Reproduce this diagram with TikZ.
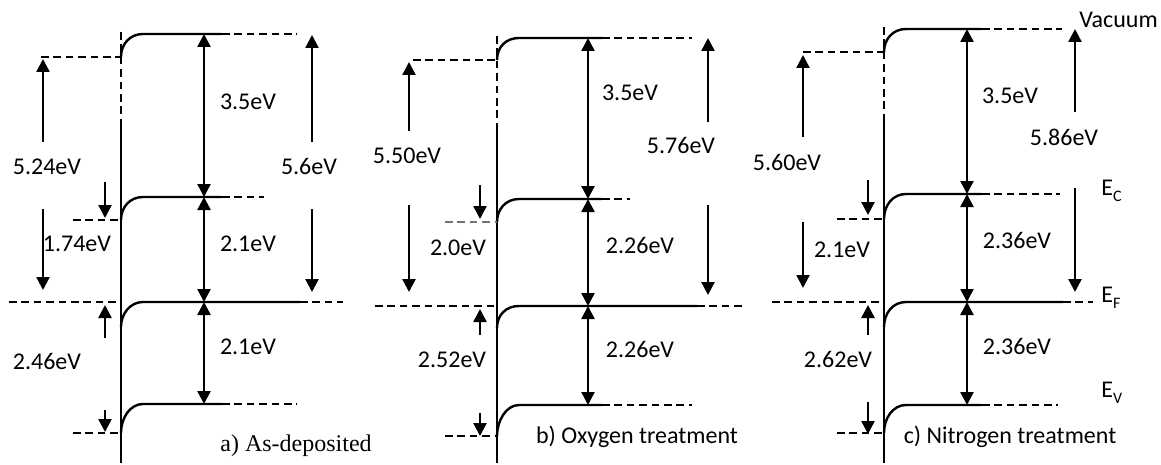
\documentclass[tikz,border=0pt]{standalone}
\usepackage{fontspec}
\setmainfont{Carlito}
\newfontfamily\serifcap{Liberation Serif}
\usetikzlibrary{arrows.meta,calc}
\tikzset{
  lvl/.style={line width=1.2pt},
  dsh/.style={line width=1.2pt, dash pattern=on 3.8pt off 2.4pt},
  arr/.style={line width=1.2pt, -{Triangle[length=6.5pt,width=6.5pt]}},
  darr/.style={line width=1.2pt, {Triangle[length=6.5pt,width=6.5pt]}-{Triangle[length=6.5pt,width=6.5pt]}},
  lbl/.style={font=\fontsize{12}{14}\selectfont, inner sep=0pt, anchor=base},
  elbl/.style={font=\fontsize{12}{14}\selectfont, inner sep=0pt, anchor=base west},
  captext/.style={font=\fontsize{12}{14}\selectfont, inner sep=0pt, anchor=base},
}
\newcommand{\esub}[1]{\raisebox{-3pt}{\fontsize{8}{8}\selectfont #1}}
\begin{document}
\begin{tikzpicture}[x=0.5pt,y=-0.5pt]
\useasboundingbox (0,0) rectangle (1161,465);

% ================= panel a =================
\coordinate (a-top) at (121,32);
\coordinate (a-mid) at (121,121);
\coordinate (a-bot) at (121,463);
\draw[dsh] (a-top) -- (a-mid);
\draw[lvl] (a-mid) -- (a-bot);
% vacuum
\coordinate (a-vacL) at (121,57);
\coordinate (a-vacK) at (143,34);
\coordinate (a-vacS) at (222,34);
\coordinate (a-vacE) at (297,34);
\coordinate (a-wfS) at (41,57);
\draw[lvl] (a-vacL) .. controls ($(a-vacL)+(0,-13)$) and ($(a-vacK)+(-13,0)$) .. (a-vacK) -- (a-vacS);
\draw[dsh] (a-vacS) -- (a-vacE);
\draw[dsh] (a-wfS) -- (a-vacL);
% conduction band
\coordinate (a-cbL) at (121,220);
\coordinate (a-cbK) at (143,197);
\coordinate (a-cbS) at (222,197);
\coordinate (a-cbE) at (264,197);
\coordinate (a-cbD) at (73,220);
\draw[lvl] (a-cbL) .. controls ($(a-cbL)+(0,-13)$) and ($(a-cbK)+(-13,0)$) .. (a-cbK) -- (a-cbS);
\draw[dsh] (a-cbS) -- (a-cbE);
\draw[dsh] (a-cbD) -- (a-cbL);
% Fermi level
\coordinate (a-efD) at (9,302);
\coordinate (a-efI) at (121,302);
\coordinate (a-efL) at (121,327);
\coordinate (a-efK) at (143,302);
\coordinate (a-efS) at (300,302);
\coordinate (a-efE) at (343,302);
\draw[dsh] (a-efD) -- (a-efI);
\draw[lvl] (a-efL) .. controls ($(a-efL)+(0,-13)$) and ($(a-efK)+(-13,0)$) .. (a-efK) -- (a-efS);
\draw[dsh] (a-efS) -- (a-efE);
% valence band
\coordinate (a-vbL) at (121,433);
\coordinate (a-vbK) at (143,404);
\coordinate (a-vbS) at (222,404);
\coordinate (a-vbE) at (297,404);
\coordinate (a-vbD) at (73,433);
\draw[lvl] (a-vbL) .. controls ($(a-vbL)+(0,-15)$) and ($(a-vbK)+(-13,0)$) .. (a-vbK) -- (a-vbS);
\draw[dsh] (a-vbS) -- (a-vbE);
\draw[dsh] (a-vbD) -- (a-vbL);
% arrows
\coordinate (a-xd) at (204,0);
\draw[darr] (a-xd |- a-vacS) -- (a-xd |- a-cbS);
\draw[darr] (a-xd |- a-cbS) -- (a-xd |- a-efS);
\draw[darr] (a-xd |- a-efS) -- (a-xd |- a-vbS);
\coordinate (a-l1) at (43,142); \coordinate (a-l1t) at (43,59);
\coordinate (a-l2) at (43,209); \coordinate (a-l2t) at (43,290);
\draw[arr] (a-l1) -- (a-l1t);
\draw[arr] (a-l2) -- (a-l2t);
\coordinate (a-r1) at (312,142); \coordinate (a-r1t) at (312,35);
\coordinate (a-r2) at (312,209); \coordinate (a-r2t) at (312,292);
\draw[arr] (a-r1) -- (a-r1t);
\draw[arr] (a-r2) -- (a-r2t);
\coordinate (a-s1) at (105,182); \coordinate (a-s1t) at (105,218);
\coordinate (a-s2) at (105,338); \coordinate (a-s2t) at (105,305);
\coordinate (a-s3) at (105,410); \coordinate (a-s3t) at (105,432);
\draw[arr] (a-s1) -- (a-s1t);
\draw[arr] (a-s2) -- (a-s2t);
\draw[arr] (a-s3) -- (a-s3t);
% labels
\node[lbl] (a-t1) at (47,174) {5.24eV};
\node[lbl] (a-t2) at (309,174) {5.6eV};
\node[lbl] (a-t3) at (248,110) {3.5eV};
\node[lbl] (a-t4) at (77,251) {1.74eV};
\node[lbl] (a-t5) at (248,251) {2.1eV};
\node[lbl] (a-t6) at (47,369) {2.46eV};
\node[lbl] (a-t7) at (248,354) {2.1eV};
\node[captext,font=\serifcap\fontsize{12}{14}\selectfont] (a-cap) at (296,451) {a) As-deposited};

% ================= panel b =================
\coordinate (b-top) at (497,36);
\coordinate (b-mid) at (497,123);
\coordinate (b-bot) at (497,463);
\draw[dsh] (b-top) -- (b-mid);
\draw[lvl] (b-mid) -- (b-bot);
\coordinate (b-vacL) at (497,60);
\coordinate (b-vacK) at (519,38);
\coordinate (b-vacS) at (602,38);
\coordinate (b-vacE) at (692,38);
\coordinate (b-wfS) at (413,60);
\draw[lvl] (b-vacL) .. controls ($(b-vacL)+(0,-13)$) and ($(b-vacK)+(-13,0)$) .. (b-vacK) -- (b-vacS);
\draw[dsh] (b-vacS) -- (b-vacE);
\draw[dsh] (b-wfS) -- (b-vacL);
\coordinate (b-cbL) at (497,222);
\coordinate (b-cbK) at (519,199);
\coordinate (b-cbS) at (602,199);
\coordinate (b-cbE) at (630,199);
\coordinate (b-cbD) at (445,222);
\draw[lvl] (b-cbL) .. controls ($(b-cbL)+(0,-13)$) and ($(b-cbK)+(-13,0)$) .. (b-cbK) -- (b-cbS);
\draw[dsh] (b-cbS) -- (b-cbE);
\draw[dsh,black!55] (b-cbD) -- (b-cbL);
\coordinate (b-efD) at (375,306);
\coordinate (b-efI) at (497,306);
\coordinate (b-efL) at (497,328);
\coordinate (b-efK) at (519,306);
\coordinate (b-efS) at (697,306);
\coordinate (b-efE) at (743,306);
\draw[dsh] (b-efD) -- (b-efI);
\draw[lvl] (b-efL) .. controls ($(b-efL)+(0,-13)$) and ($(b-efK)+(-13,0)$) .. (b-efK) -- (b-efS);
\draw[dsh] (b-efS) -- (b-efE);
\coordinate (b-vbL) at (497,436);
\coordinate (b-vbK) at (519,405);
\coordinate (b-vbS) at (602,405);
\coordinate (b-vbE) at (692,405);
\coordinate (b-vbD) at (445,436);
\draw[lvl] (b-vbL) .. controls ($(b-vbL)+(0,-15)$) and ($(b-vbK)+(-13,0)$) .. (b-vbK) -- (b-vbS);
\draw[dsh] (b-vbS) -- (b-vbE);
\draw[dsh] (b-vbD) -- (b-vbL);
\coordinate (b-xd) at (588,0);
\draw[darr] (b-xd |- b-vacS) -- (b-xd |- b-cbS);
\draw[darr] (b-xd |- b-cbS) -- (b-xd |- b-efS);
\draw[darr] (b-xd |- b-efS) -- (b-xd |- b-vbS);
\coordinate (b-l1) at (409,131); \coordinate (b-l1t) at (409,62);
\coordinate (b-l2) at (409,205); \coordinate (b-l2t) at (409,292);
\draw[arr] (b-l1) -- (b-l1t);
\draw[arr] (b-l2) -- (b-l2t);
\coordinate (b-r1) at (708,122); \coordinate (b-r1t) at (708,38);
\coordinate (b-r2) at (708,205); \coordinate (b-r2t) at (708,295);
\draw[arr] (b-r1) -- (b-r1t);
\draw[arr] (b-r2) -- (b-r2t);
\coordinate (b-s1) at (480,185); \coordinate (b-s1t) at (480,219);
\coordinate (b-s2) at (480,335); \coordinate (b-s2t) at (480,309);
\coordinate (b-s3) at (480,413); \coordinate (b-s3t) at (480,436);
\draw[arr] (b-s1) -- (b-s1t);
\draw[arr] (b-s2) -- (b-s2t);
\draw[arr] (b-s3) -- (b-s3t);
\node[lbl] (b-t1) at (407,163) {5.50eV};
\node[lbl] (b-t2) at (681,154) {5.76eV};
\node[lbl] (b-t3) at (630,101) {3.5eV};
\node[lbl] (b-t4) at (458,255) {2.0eV};
\node[lbl] (b-t5) at (640,253) {2.26eV};
\node[lbl] (b-t6) at (452,367) {2.52eV};
\node[lbl] (b-t7) at (640,357) {2.26eV};
\node[captext] (b-cap) at (637,443) {b) Oxygen treatment};

% ================= panel c =================
\coordinate (c-top) at (884,27);
\coordinate (c-mid) at (884,117);
\coordinate (c-bot) at (884,463);
\draw[dsh] (c-top) -- (c-mid);
\draw[lvl] (c-mid) -- (c-bot);
\coordinate (c-vacL) at (884,52);
\coordinate (c-vacK) at (906,29);
\coordinate (c-vacS) at (982,29);
\coordinate (c-vacE) at (1062,29);
\coordinate (c-wfS) at (803,52);
\draw[lvl] (c-vacL) .. controls ($(c-vacL)+(0,-13)$) and ($(c-vacK)+(-13,0)$) .. (c-vacK) -- (c-vacS);
\draw[dsh] (c-vacS) -- (c-vacE);
\draw[dsh] (c-wfS) -- (c-vacL);
\coordinate (c-cbL) at (884,219);
\coordinate (c-cbK) at (906,194);
\coordinate (c-cbS) at (982,194);
\coordinate (c-cbE) at (1060,194);
\coordinate (c-cbD) at (837,219);
\draw[lvl] (c-cbL) .. controls ($(c-cbL)+(0,-14)$) and ($(c-cbK)+(-13,0)$) .. (c-cbK) -- (c-cbS);
\draw[dsh] (c-cbS) -- (c-cbE);
\draw[dsh] (c-cbD) -- (c-cbL);
\coordinate (c-efD) at (772,302);
\coordinate (c-efI) at (884,302);
\coordinate (c-efL) at (884,327);
\coordinate (c-efK) at (906,302);
\coordinate (c-efS) at (1063,302);
\coordinate (c-efE) at (1093,302);
\draw[dsh] (c-efD) -- (c-efI);
\draw[lvl] (c-efL) .. controls ($(c-efL)+(0,-14)$) and ($(c-efK)+(-13,0)$) .. (c-efK) -- (c-efS);
\draw[dsh] (c-efS) -- (c-efE);
\coordinate (c-vbL) at (884,433);
\coordinate (c-vbK) at (906,405);
\coordinate (c-vbS) at (982,405);
\coordinate (c-vbE) at (1058,405);
\coordinate (c-vbD) at (837,433);
\draw[lvl] (c-vbL) .. controls ($(c-vbL)+(0,-15)$) and ($(c-vbK)+(-13,0)$) .. (c-vbK) -- (c-vbS);
\draw[dsh] (c-vbS) -- (c-vbE);
\draw[dsh] (c-vbD) -- (c-vbL);
\coordinate (c-xd) at (967,0);
\draw[darr] (c-xd |- c-vacS) -- (c-xd |- c-cbS);
\draw[darr] (c-xd |- c-cbS) -- (c-xd |- c-efS);
\draw[darr] (c-xd |- c-efS) -- (c-xd |- c-vbS);
\coordinate (c-l1) at (803,137); \coordinate (c-l1t) at (803,55);
\coordinate (c-l2) at (803,222); \coordinate (c-l2t) at (803,288);
\draw[arr] (c-l1) -- (c-l1t);
\draw[arr] (c-l2) -- (c-l2t);
\coordinate (c-r1) at (1075,112); \coordinate (c-r1t) at (1075,29);
\coordinate (c-r2) at (1075,188); \coordinate (c-r2t) at (1075,292);
\draw[arr] (c-r1) -- (c-r1t);
\draw[arr] (c-r2) -- (c-r2t);
\coordinate (c-s1) at (868,180); \coordinate (c-s1t) at (868,215);
\coordinate (c-s2) at (868,335); \coordinate (c-s2t) at (868,305);
\coordinate (c-s3) at (868,402); \coordinate (c-s3t) at (868,434);
\draw[arr] (c-s1) -- (c-s1t);
\draw[arr] (c-s2) -- (c-s2t);
\draw[arr] (c-s3) -- (c-s3t);
\node[lbl] (c-t1) at (787,170) {5.60eV};
\node[lbl] (c-t2) at (1064,145) {5.86eV};
\node[lbl] (c-t3) at (1010,104) {3.5eV};
\node[lbl] (c-t4) at (842,257) {2.1eV};
\node[lbl] (c-t5) at (1017,248) {2.36eV};
\node[lbl] (c-t6) at (838,367) {2.62eV};
\node[lbl] (c-t7) at (1017,354) {2.36eV};
\node[captext] (c-cap) at (1010,443) {c) Nitrogen treatment};
\node[elbl] (vac) at (1079,28) {Vacuum};
\node[elbl] (ec) at (1101,195) {E\esub{C}};
\node[elbl] (ef) at (1101,302) {E\esub{F}};
\node[elbl] (ev) at (1101,397) {E\esub{V}};
\end{tikzpicture}
\end{document}
